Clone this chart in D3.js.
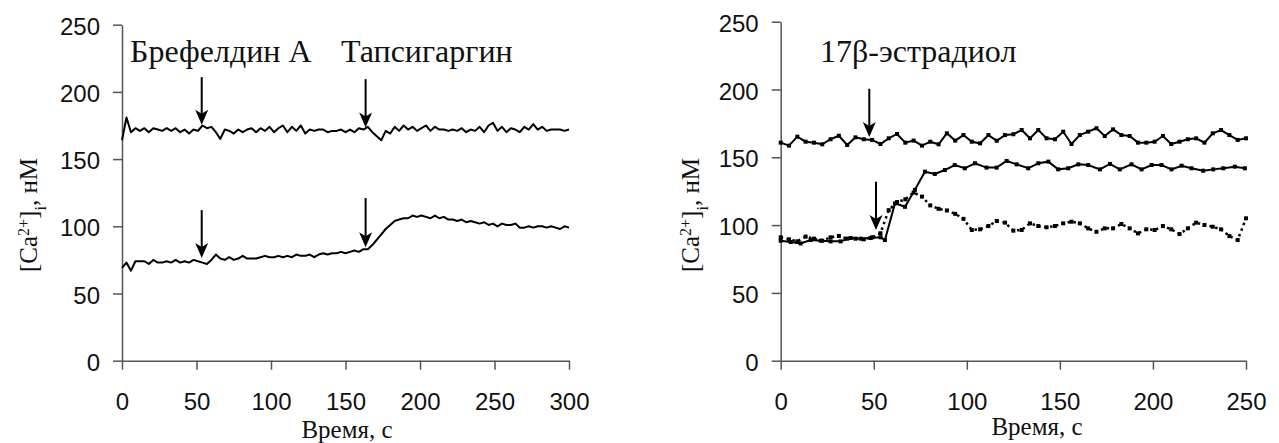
<!DOCTYPE html>
<html>
<head>
<meta charset="utf-8">
<script src="https://cdn.jsdelivr.net/npm/d3@7"></script>
<style>
  body { margin: 0; background: #fff; }
  svg { display: block; }
  .axis path, .axis line { stroke: #555; stroke-width: 1.5; }
  .axis text { font-family: "Liberation Sans", Arial, sans-serif; font-size: 24px; fill: #111; }
  .serif { font-family: "Liberation Serif", "Times New Roman", serif; fill: #111; }
</style>
</head>
<body>
<svg id="chart" width="1279" height="443"></svg>
<script>
// ---- left panel: two traces, sampled every 3 s ----
const leftStep = 3;
const leftTop = [
  164,181,170,173,171,173,170,173,172,171,
  173,171,173,170,172,169,172,171,175,173,
  174,170,165,172,171,169,172,170,172,173,
  170,173,171,174,170,173,175,170,174,171,
  175,169,172,171,172,172,170,171,171,172,
  170,172,170,173,172,174,170,167,164,171,
  169,174,171,175,172,174,171,173,175,171,
  174,172,172,171,172,171,173,170,172,171,
  174,170,175,177,171,174,170,173,172,170,
  174,172,176,172,174,171,172,172,172,171,
  172];
const leftBottom = [
  69,73,67,74,74,74,72,75,73,73,
  74,73,75,73,74,73,75,74,73,72,
  75,79,76,75,77,75,76,78,76,76,
  76,77,78,77,77,78,77,78,77,79,
  78,78,79,77,79,80,79,80,80,81,
  80,81,82,81,83,83,86,90,94,98,
  101,104,105,106,106,108,107,108,107,106,
  108,106,107,105,105,104,105,103,104,103,
  102,103,101,102,100,102,101,101,102,99,
  99,100,99,100,100,99,100,99,98,100,
  99];
const leftArrows = [
  { t: 53.5, from: 211, to: 175.5 },
  { t: 53.5, from: 112, to: 76.5 },
  { t: 163.5, from: 209.5, to: 173.5 },
  { t: 163.5, from: 121, to: 84.5 }
];

// ---- right panel ----
const rightStep = 250 / 56;
const rightUpper = [
  160.8,158.6,165.2,161.5,160.8,159.6,163.3,165.9,159.1,164.7,
  163.3,162.8,159.8,164.0,167.2,160.8,162.3,158.6,161.5,159.6,
  167.7,162.3,166.4,161.5,160.3,166.4,162.2,166.4,167.0,170.1,
  164.0,170.1,164.0,163.3,168.9,159.8,166.4,168.9,171.4,165.7,
  170.6,166.4,165.7,160.8,160.8,161.5,165.7,159.8,161.5,163.3,
  164.0,160.8,167.7,170.1,166.4,162.8,164.0];
const rightDotted = [
  91,89.5,88,91.5,90,88.5,91,92,90,90,
  89.5,91,94,111,117,119,124,121,114.5,112,
  110.8,108.3,104.6,96.4,96.9,99.3,103.0,101.8,95.9,96.4,
  101.3,99.3,98.4,99.3,101.3,102.5,101.3,97.6,95.1,97.6,
  97.6,100.8,97.6,93.9,96.9,96.4,99.3,96.9,93.4,97.6,
  101.8,100.1,98.8,96.9,91.9,89.0,105.0];
const rightMidTime = [
  0,5.4,10.7,16.1,21.5,26.8,32.2,37.6,43.0,48.3,
  53.7,56.0,61.4,66.8,72.1,77.5,82.8,88.2,93.5,98.9,
  104.4,110.6,116.0,121.4,126.8,133.0,138.4,143.8,149.1,154.5,
  159.9,165.2,171.5,176.9,182.2,188.5,193.9,199.3,204.6,210.0,
  215.4,220.7,227.0,232.4,237.8,244.0,249.4];
const rightMid = [
  88.5,87.5,86.5,89,88.5,88,88,90.5,90,90.5,
  91,89,116,113.5,126,139.4,137.7,140.6,144.3,141.9,
  145.6,142.4,142.4,147.3,144.8,141.9,145.6,146.8,141.1,141.9,
  144.8,144.3,141.1,145.1,141.1,144.8,141.1,144.3,144.3,141.1,
  143.8,141.9,140.1,141.1,141.9,143.1,141.9];
const rightArrows = [
  { t: 47.6, from: 200.5, to: 165 },
  { t: 51.2, from: 132, to: 96.4 }
];

const yTicks = [0, 50, 100, 150, 200, 250];
const xTicksLeft = [0, 50, 100, 150, 200, 250, 300];
const xTicksRight = [0, 50, 100, 150, 200, 250];

const svg = d3.select("#chart");

function drawAxes(x, y, xTicks) {
  const y0 = y(0), x0 = x.range()[0];
  svg.append("g")
    .attr("class", "axis")
    .attr("transform", `translate(${x0},0)`)
    .call(d3.axisLeft(y).tickValues(yTicks).tickSize(9).tickSizeOuter(0).tickPadding(13))
    .selectAll("text").attr("dy", "0.4em");
  svg.append("g")
    .attr("class", "axis")
    .attr("transform", `translate(0,${y0})`)
    .call(d3.axisBottom(x).tickValues(xTicks).tickSize(9).tickSizeOuter(0).tickPadding(23));
}

function drawArrows(x, y, arrows) {
  arrows.forEach(a => {
    const ax = x(a.t), top = y(a.from), tip = y(a.to);
    svg.append("line")
      .attr("x1", ax).attr("x2", ax)
      .attr("y1", top).attr("y2", tip - 10)
      .attr("stroke", "#000").attr("stroke-width", 2);
    svg.append("path")
      .attr("d", `M${ax - 6.5},${tip - 15} L${ax},${tip - 11} L${ax + 6.5},${tip - 15} L${ax},${tip} Z`)
      .attr("fill", "#000");
  });
}

function yLabel(cx, cy) {
  const t = svg.append("text")
    .attr("class", "serif")
    .attr("font-size", 25)
    .attr("text-anchor", "middle")
    .attr("transform", `translate(${cx},${cy}) rotate(-90)`);
  t.append("tspan").text("[Ca");
  t.append("tspan").attr("baseline-shift", "super").attr("font-size", 16).text("2+");
  t.append("tspan").text("]");
  t.append("tspan").attr("baseline-shift", "sub").attr("font-size", 16).text("i");
  t.append("tspan").text(", нМ");
}

// ---- left panel ----
const xL = d3.scaleLinear().domain([0, 300]).range([122, 569]);
const yL = d3.scaleLinear().domain([0, 250]).range([360.7, 24.7]);
drawAxes(xL, yL, xTicksLeft);

const lineL = d3.line()
  .x((d, i) => xL(i * leftStep))
  .y(d => yL(d));
[leftTop, leftBottom].forEach(s => {
  svg.append("path")
    .datum(s)
    .attr("d", lineL)
    .attr("fill", "none")
    .attr("stroke", "#000")
    .attr("stroke-width", 2)
    .attr("stroke-linejoin", "round");
});
drawArrows(xL, yL, leftArrows);

svg.append("text").attr("class", "serif").attr("font-size", 32)
  .attr("x", 130).attr("y", 62).text("Брефелдин А");
svg.append("text").attr("class", "serif").attr("font-size", 32)
  .attr("x", 341).attr("y", 62).text("Тапсигаргин");
svg.append("text").attr("class", "serif").attr("font-size", 25)
  .attr("text-anchor", "middle").attr("x", 347).attr("y", 438).text("Время, с");
yLabel(37, 215);

// ---- right panel ----
const xR = d3.scaleLinear().domain([0, 250]).range([780.7, 1246]);
const yR = d3.scaleLinear().domain([0, 250]).range([360.7, 21.7]);
drawAxes(xR, yR, xTicksRight);

const gridLine = d3.line()
  .x((d, i) => xR(i * rightStep))
  .y(d => yR(d));

svg.append("path").datum(rightUpper)
  .attr("d", gridLine).attr("fill", "none")
  .attr("stroke", "#000").attr("stroke-width", 2);
svg.selectAll(".mk-up").data(rightUpper).enter().append("rect")
  .attr("class", "mk-up")
  .attr("x", (d, i) => xR(i * rightStep) - 2)
  .attr("y", d => yR(d) - 2)
  .attr("width", 4).attr("height", 4).attr("fill", "#000");

const midLine = d3.line()
  .x((d, i) => xR(rightMidTime[i]))
  .y(d => yR(d));
svg.append("path").datum(rightMid)
  .attr("d", midLine).attr("fill", "none")
  .attr("stroke", "#000").attr("stroke-width", 2);
svg.selectAll(".mk-mid").data(rightMid).enter().append("rect")
  .attr("class", "mk-mid")
  .attr("x", (d, i) => xR(rightMidTime[i]) - 2)
  .attr("y", d => yR(d) - 2)
  .attr("width", 4).attr("height", 4).attr("fill", "#000");

svg.append("path").datum(rightDotted)
  .attr("d", gridLine).attr("fill", "none")
  .attr("stroke", "#000").attr("stroke-width", 2.5)
  .attr("stroke-dasharray", "2.5,3.5");
svg.selectAll(".mk-dot").data(rightDotted).enter().append("rect")
  .attr("class", "mk-dot")
  .attr("x", (d, i) => xR(i * rightStep) - 2)
  .attr("y", d => yR(d) - 2)
  .attr("width", 4).attr("height", 4).attr("fill", "#000");

drawArrows(xR, yR, rightArrows);

svg.append("text").attr("class", "serif").attr("font-size", 32)
  .attr("x", 820).attr("y", 62).text("17β-эстрадиол");
svg.append("text").attr("class", "serif").attr("font-size", 25)
  .attr("text-anchor", "middle").attr("x", 1037).attr("y", 435).text("Время, с");
yLabel(699, 215);
</script>
</body>
</html>
